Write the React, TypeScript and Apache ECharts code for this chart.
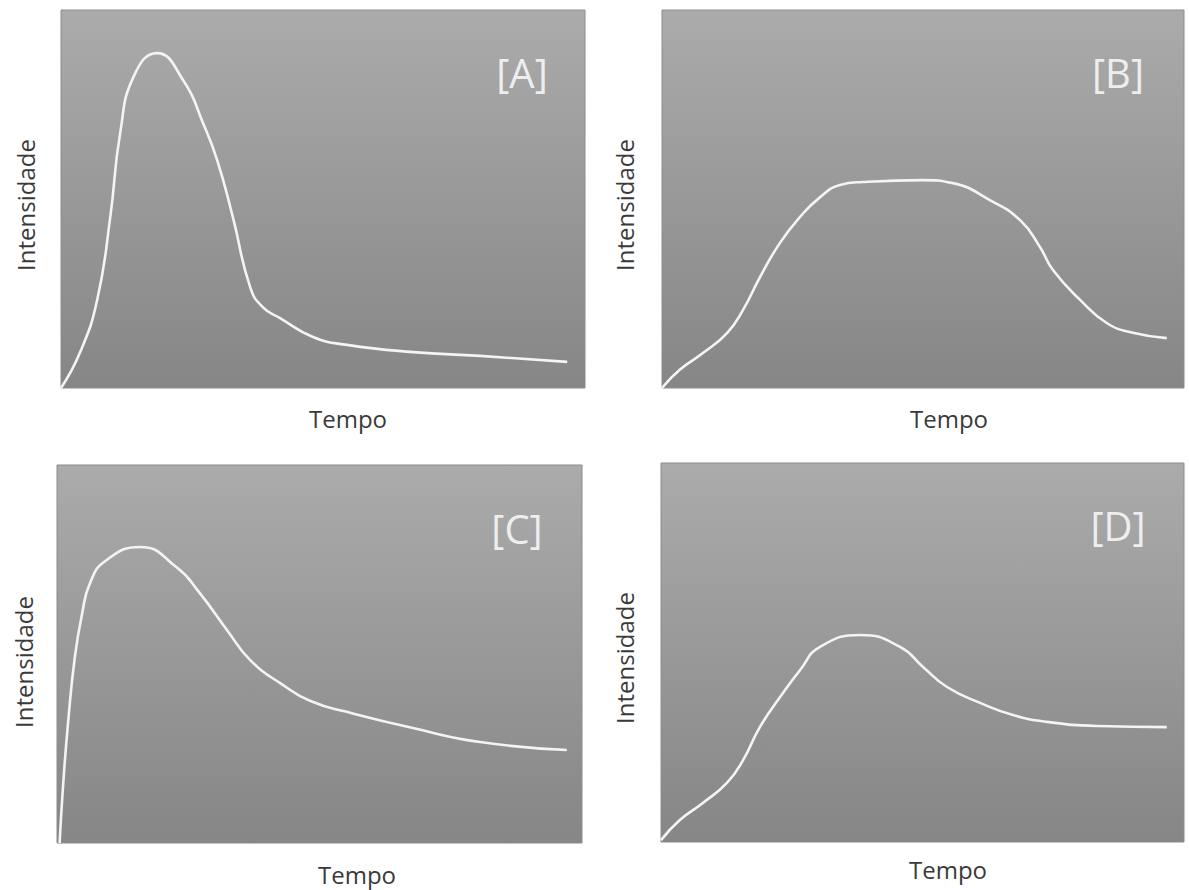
import React, { useEffect, useRef } from "react";
import * as echarts from "echarts";

// Panel tags and axis titles
const panelTags = ["[A]", "[B]", "[C]", "[D]"];
const yTitle = "Intensidade";
const xTitle = "Tempo";

// Curve A (time %, intensity %)
const timeA = [0, 3.6, 6.9, 9.4, 11.3, 13.9, 18.3, 23.5, 27.1, 29.8, 32.8, 36.1, 38.5, 41.8, 48.1, 54.6, 67.2, 80.0, 96.6];
const intA = [0, 9.3, 23.3, 45.2, 67.5, 82.5, 88.6, 81.0, 70.1, 60.3, 45.2, 26.7, 21.4, 18.5, 13.5, 11.4, 9.5, 8.5, 6.9];

// Curve B
const timeB = [0, 3.4, 7.9, 12.5, 15.5, 18.8, 22.6, 26.4, 30.3, 34.1, 38.5, 50.0, 55.7, 62.8, 68.6, 72.4, 74.9, 80.1, 85.2, 90.2, 96.7];
const intB = [0, 4.8, 9.3, 14.6, 20.6, 29.4, 38.4, 45.2, 50.5, 53.7, 54.5, 55.0, 54.2, 49.7, 44.4, 37.3, 31.2, 23.3, 17.2, 14.6, 13.2];

// Curve C
const timeC = [0.5, 1.1, 2.1, 3.4, 4.8, 6.3, 9.2, 15.8, 22.9, 27.2, 32.4, 36.8, 42.5, 48.8, 55.2, 67.8, 80.6, 97.1];
const intC = [0, 14.0, 31.7, 49.2, 60.8, 68.8, 74.6, 78.3, 72.8, 66.1, 56.3, 48.4, 42.3, 37.3, 34.7, 30.4, 26.7, 24.6];

// Curve D
const timeD = [0, 3.6, 8.0, 12.6, 15.7, 18.9, 22.8, 26.6, 30.4, 38.2, 45.7, 50.1, 54.7, 61.0, 67.3, 73.8, 83.4, 96.7];
const intD = [0.5, 5.8, 10.3, 15.6, 21.6, 30.3, 38.3, 45.4, 51.5, 54.6, 51.5, 46.2, 40.9, 36.7, 33.5, 31.7, 30.6, 30.3];

const curves = [
  [timeA, intA],
  [timeB, intB],
  [timeC, intC],
  [timeD, intD],
];

export default function App() {
  const ref = useRef<HTMLDivElement>(null);

  useEffect(() => {
    if (!ref.current) return;
    const chart = echarts.init(ref.current, null, { renderer: "svg" });

    const grids = [
      { left: 61, top: 10, width: 524, height: 378 },
      { left: 662, top: 10, width: 522, height: 378 },
      { left: 57, top: 465, width: 525, height: 378 },
      { left: 661, top: 463, width: 523, height: 379 },
    ];
    const tagPos = [
      [522, 72],
      [1118, 72],
      [517, 528],
      [1118, 525],
    ];
    const yTitlePos = [
      [25, 205],
      [624, 205],
      [23, 662],
      [624, 658],
    ];
    const xTitlePos = [
      [348, 418],
      [949, 418],
      [357, 874],
      [948, 869],
    ];

    const bg = {
      type: "linear",
      x: 0,
      y: 0,
      x2: 0,
      y2: 1,
      colorStops: [
        { offset: 0, color: "#ababab" },
        { offset: 1, color: "#868686" },
      ],
    };

    const graphic: any[] = [];
    panelTags.forEach((t, i) => {
      graphic.push({
        type: "text",
        x: tagPos[i][0],
        y: tagPos[i][1],
        z: 10,
        style: {
          text: t,
          fill: "#eeeeee",
          font: '40px "Open Sans"',
          align: "center",
          verticalAlign: "middle",
        },
      });
      graphic.push({
        type: "text",
        x: yTitlePos[i][0],
        y: yTitlePos[i][1],
        rotation: Math.PI / 2,
        style: {
          text: yTitle,
          fill: "#3a3a3a",
          font: '24px "Open Sans"',
          align: "center",
          verticalAlign: "middle",
        },
      });
      graphic.push({
        type: "text",
        x: xTitlePos[i][0],
        y: xTitlePos[i][1],
        style: {
          text: xTitle,
          fill: "#3a3a3a",
          font: '24px "Open Sans"',
          align: "center",
          verticalAlign: "middle",
        },
      });
    });

    chart.setOption({
      animation: false,
      grid: grids.map((g) => ({
        ...g,
        show: true,
        backgroundColor: bg,
        borderColor: "#8c8c8c",
        borderWidth: 1,
        containLabel: false,
      })),
      xAxis: grids.map((_, i) => ({
        type: "value",
        gridIndex: i,
        min: 0,
        max: 100,
        show: false,
      })),
      yAxis: grids.map((_, i) => ({
        type: "value",
        gridIndex: i,
        min: 0,
        max: 100,
        show: false,
      })),
      series: curves.map(([xs, ys], i) => ({
        type: "line",
        xAxisIndex: i,
        yAxisIndex: i,
        data: xs.map((x, k) => [x, ys[k]]),
        smooth: 0.5,
        showSymbol: false,
        symbol: "none",
        lineStyle: { color: "#f4f4f4", width: 2.6 },
      })),
      graphic,
    });

    return () => chart.dispose();
  }, []);

  return (
    <div
      ref={ref}
      style={{ position: "absolute", left: 0, top: 0, width: 1189, height: 890, background: "#ffffff" }}
    />
  );
}
